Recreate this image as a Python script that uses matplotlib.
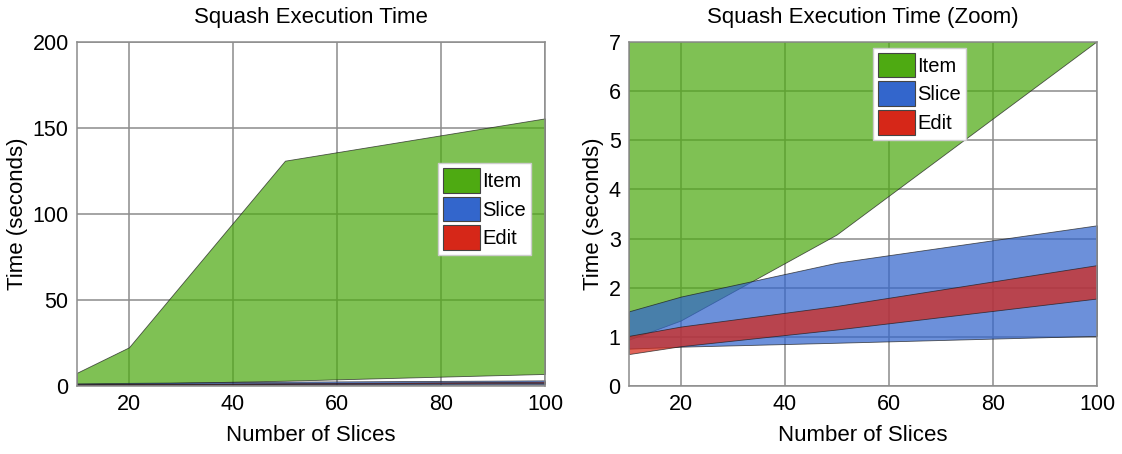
import matplotlib
matplotlib.use("Agg")
import matplotlib.pyplot as plt
from matplotlib.patches import Patch

plt.rcParams['font.family'] = ['Liberation Sans', 'DejaVu Sans']

# Number of slices
slices = [10, 20, 50, 100]

# Execution time ranges (seconds): min / max per operation
item_min = [0.93, 1.32, 3.07, 7.0]
item_max = [7.7, 22.5, 131.0, 155.6]
slice_min = [0.76, 0.80, 0.88, 1.02]
slice_max = [1.52, 1.82, 2.51, 3.27]
edit_min = [0.65, 0.81, 1.15, 1.78]
edit_max = [1.02, 1.21, 1.63, 2.46]

labels = ["Item", "Slice", "Edit"]
colors = ["#4eaa12", "#3366cc", "#d62718"]
bands = [(item_min, item_max), (slice_min, slice_max), (edit_min, edit_max)]

fig = plt.figure(figsize=(11.22, 4.54), dpi=100)
ax1 = fig.add_axes([0.0686, 0.1498, 0.4171, 0.7577])
ax2 = fig.add_axes([0.5606, 0.1498, 0.4171, 0.7577])


def draw(ax, title, ylim, yticks):
    for (lo, hi), c in zip(bands, colors):
        ax.fill_between(slices, lo, hi, facecolor=c, alpha=0.72,
                        edgecolor="#1a1a1a", linewidth=0.6)
    ax.set_xlim(10, 100)
    ax.set_ylim(*ylim)
    ax.set_xticks([20, 40, 60, 80, 100])
    ax.set_yticks(yticks)
    ax.set_axisbelow(True)
    ax.grid(True, color="#8c8c8c", linewidth=1.1)
    for s in ax.spines.values():
        s.set_color("#8c8c8c")
        s.set_linewidth(1.1)
    ax.tick_params(length=0, labelsize=15.5, pad=6)
    ax.set_title(title, fontsize=16, pad=14)
    ax.set_xlabel("Number of Slices", fontsize=16, labelpad=7)
    ax.set_ylabel("Time (seconds)", fontsize=16, labelpad=3)


draw(ax1, "Squash Execution Time", (0, 200), [0, 50, 100, 150, 200])
draw(ax2, "Squash Execution Time (Zoom)", (0, 7), list(range(8)))

handles = [Patch(facecolor=c, edgecolor="#444444", linewidth=0.8) for c in colors]
legend_kw = dict(fontsize=14.5, fancybox=False, framealpha=1.0,
                 edgecolor="#cccccc", handlelength=1.85, handleheight=1.5,
                 handletextpad=0.1, labelspacing=0.2, borderpad=0.25,
                 borderaxespad=0.0)
ax1.legend(handles, labels, loc="upper right", bbox_to_anchor=(0.970, 0.648),
           **legend_kw)
ax2.legend(handles, labels, loc="upper left", bbox_to_anchor=(0.521, 0.983),
           **legend_kw)

fig.savefig("out.png", dpi=100)
